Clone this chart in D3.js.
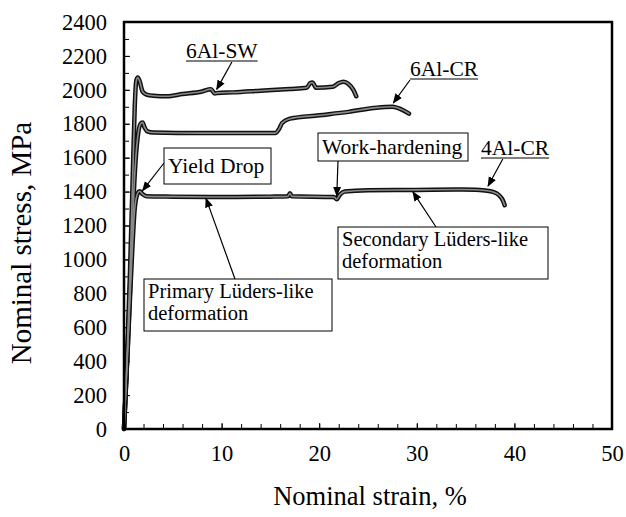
<!DOCTYPE html>
<html>
<head>
<meta charset="utf-8">
<script src="https://cdn.jsdelivr.net/npm/d3@7"></script>
<style>
  body { margin: 0; background: #fff; }
  text { font-family: "Liberation Serif", "Times New Roman", serif; fill: #000; }
</style>
</head>
<body>
<svg id="chart" width="626" height="517"></svg>
<script>
// strain (%) / stress (MPa)
const sw6 = [[0,0],[0.3,400],[0.6,900],[0.9,1500],[1.1,1900],[1.25,2050],[1.4,2072],[1.6,2052],[1.9,1990],[2.3,1972],[3,1965],[4.4,1962],[6,1975],[8,1990],[8.9,2004],[9.3,1978],[9.6,1982],[11.2,1985],[14,1995],[17,2005],[18.7,2012],[19.1,2040],[19.3,2043],[19.7,2012],[21.4,2018],[22,2040],[22.5,2048],[23,2035],[23.5,2000],[23.8,1962]];
const cr6 = [[0,0],[0.4,500],[0.8,1100],[1.1,1500],[1.4,1720],[1.7,1800],[1.9,1808],[2.1,1780],[2.4,1755],[3,1748],[8,1745],[12,1745],[15.5,1745],[15.9,1770],[16.2,1805],[17,1830],[20,1850],[23,1870],[25.9,1895],[27.5,1900],[28.4,1885],[29.2,1860]];
const cr4 = [[0,0],[0.4,500],[0.8,1000],[1.1,1300],[1.4,1390],[1.6,1402],[1.9,1385],[2.3,1372],[5,1370],[10,1368],[15,1370],[16.8,1372],[17,1390],[17.2,1372],[21.5,1368],[21.8,1355],[22.1,1380],[22.6,1400],[25,1408],[30,1410],[34,1412],[36,1411],[37,1406],[37.8,1398],[38.4,1380],[38.8,1350],[39,1320]];
const series = [sw6, cr6, cr4];

const xTicks = [0, 10, 20, 30, 40, 50];
const yTicks = [0, 200, 400, 600, 800, 1000, 1200, 1400, 1600, 1800, 2000, 2200, 2400];

// sample labels: name, point on curve, label anchor, where the arrow leaves the underline
const labels = [
  { text: "6Al-SW", at: [9.5, 1985], lx: 186, ly: 58, ax: 0.64 },
  { text: "6Al-CR", at: [27.6, 1905], lx: 410, ly: 76, ax: 0 },
  { text: "4Al-CR", at: [37.3, 1415], lx: 481, ly: 155, ax: 0.32 }
];

// boxed notes
const notes = [
  { lines: ["Yield Drop"], x: 164, y: 148, w: 107, h: 36, from: [164, 163], to: [1.9, 1405] },
  { lines: ["Work-hardening"], x: 318, y: 133, w: 150, h: 28, from: [338, 161], to: [21.8, 1375] },
  { lines: ["Secondary Lüders-like", "deformation"], x: 338, y: 227, w: 210, h: 52, from: [436, 227], to: [29.6, 1398] },
  { lines: ["Primary Lüders-like", "deformation"], x: 144, y: 279, w: 188, h: 52, from: [235, 279], to: [8.4, 1360] }
];

const margin = { left: 124, top: 22, right: 14, bottom: 88 };
const W = 626 - margin.left - margin.right;
const H = 517 - margin.top - margin.bottom;

const svg = d3.select("#chart");
const defs = svg.append("defs");
defs.append("marker")
  .attr("id", "arrow")
  .attr("viewBox", "0 0 10 10")
  .attr("refX", 9).attr("refY", 5)
  .attr("markerWidth", 10).attr("markerHeight", 10)
  .attr("markerUnits", "userSpaceOnUse")
  .attr("orient", "auto")
  .append("path")
  .attr("d", "M0,1 L10,5 L0,9 Z")
  .attr("fill", "#000");

const g = svg.append("g").attr("transform", `translate(${margin.left},${margin.top})`);

const x = d3.scaleLinear().domain([0, 50]).range([0, W]);
const y = d3.scaleLinear().domain([0, 2400]).range([H, 0]);

// minor ticks
g.append("g")
  .attr("transform", `translate(0,${H})`)
  .call(d3.axisBottom(x).tickValues(d3.range(0, 51, 2)).tickSizeInner(-5).tickSizeOuter(0).tickFormat(""))
  .call(a => a.select(".domain").remove());
g.append("g")
  .call(d3.axisLeft(y).tickValues(d3.range(0, 2401, 100)).tickSizeInner(-5).tickSizeOuter(0).tickFormat(""))
  .call(a => a.select(".domain").remove());

// major ticks + labels
const xAxis = g.append("g")
  .attr("transform", `translate(0,${H})`)
  .call(d3.axisBottom(x).tickValues(xTicks).tickSizeInner(-6).tickSizeOuter(0).tickPadding(16).tickFormat(d3.format("d")));
const yAxis = g.append("g")
  .call(d3.axisLeft(y).tickValues(yTicks).tickSizeInner(-6).tickSizeOuter(0).tickPadding(17).tickFormat(d3.format("d")));
[xAxis, yAxis].forEach(a => {
  a.select(".domain").remove();
  a.selectAll("text").style("font-size", "22.5px").style("font-family", "Liberation Serif");
});
g.selectAll(".tick line").attr("stroke", "#000").attr("stroke-width", 1);

// curves
const line = d3.line().x(d => x(d[0])).y(d => y(d[1])).curve(d3.curveMonotoneX);
g.append("g").selectAll("path.outer")
  .data(series).enter().append("path")
  .attr("d", line)
  .attr("fill", "none")
  .attr("stroke", "#111")
  .attr("stroke-width", 4.5)
  .attr("stroke-linecap", "round")
  .attr("stroke-linejoin", "round");
g.append("g").selectAll("path.inner")
  .data(series).enter().append("path")
  .attr("d", line)
  .attr("fill", "none")
  .attr("stroke", "#8a8a8a")
  .attr("stroke-width", 1.6)
  .attr("stroke-linecap", "round")
  .attr("stroke-linejoin", "round");

// frame
g.append("rect")
  .attr("width", W).attr("height", H)
  .attr("fill", "none").attr("stroke", "#000").attr("stroke-width", 2.5);

// sample labels
const lab = svg.append("g");
labels.forEach(l => {
  const t = lab.append("text").attr("x", l.lx).attr("y", l.ly).style("font-size", "21.5px").text(l.text);
  const w = t.node().getComputedTextLength();
  lab.append("line")
    .attr("x1", l.lx).attr("x2", l.lx + w)
    .attr("y1", l.ly + 3).attr("y2", l.ly + 3)
    .attr("stroke", "#000").attr("stroke-width", 1);
  lab.append("line")
    .attr("x1", l.lx + w * l.ax).attr("y1", l.ly + 4)
    .attr("x2", margin.left + x(l.at[0])).attr("y2", margin.top + y(l.at[1]) - 3)
    .attr("stroke", "#000").attr("stroke-width", 1.2)
    .attr("marker-end", "url(#arrow)");
});

// notes
const nt = svg.append("g");
notes.forEach(n => {
  nt.append("line")
    .attr("x1", n.from[0]).attr("y1", n.from[1])
    .attr("x2", margin.left + x(n.to[0])).attr("y2", margin.top + y(n.to[1]))
    .attr("stroke", "#000").attr("stroke-width", 1.2)
    .attr("marker-end", "url(#arrow)");
  nt.append("rect")
    .attr("x", n.x).attr("y", n.y).attr("width", n.w).attr("height", n.h)
    .attr("fill", "#fff").attr("stroke", "#000").attr("stroke-width", 1);
  const two = n.lines.length > 1;
  const txt = nt.append("text")
    .attr("x", n.x + 4)
    .attr("y", n.y + (two ? 19 : n.h / 2 + 7))
    .style("font-size", two ? "20.5px" : "21.5px");
  n.lines.forEach((t, i) => {
    txt.append("tspan")
      .attr("x", n.x + 4)
      .attr("dy", i === 0 ? 0 : 22)
      .text(t);
  });
});

// axis titles
svg.append("text")
  .attr("x", 370).attr("y", 505)
  .attr("text-anchor", "middle")
  .style("font-size", "26.5px")
  .text("Nominal strain, %");
svg.append("text")
  .attr("transform", "translate(31,243) rotate(-90)")
  .attr("text-anchor", "middle")
  .style("font-size", "29px")
  .text("Nominal stress, MPa");
</script>
</body>
</html>
